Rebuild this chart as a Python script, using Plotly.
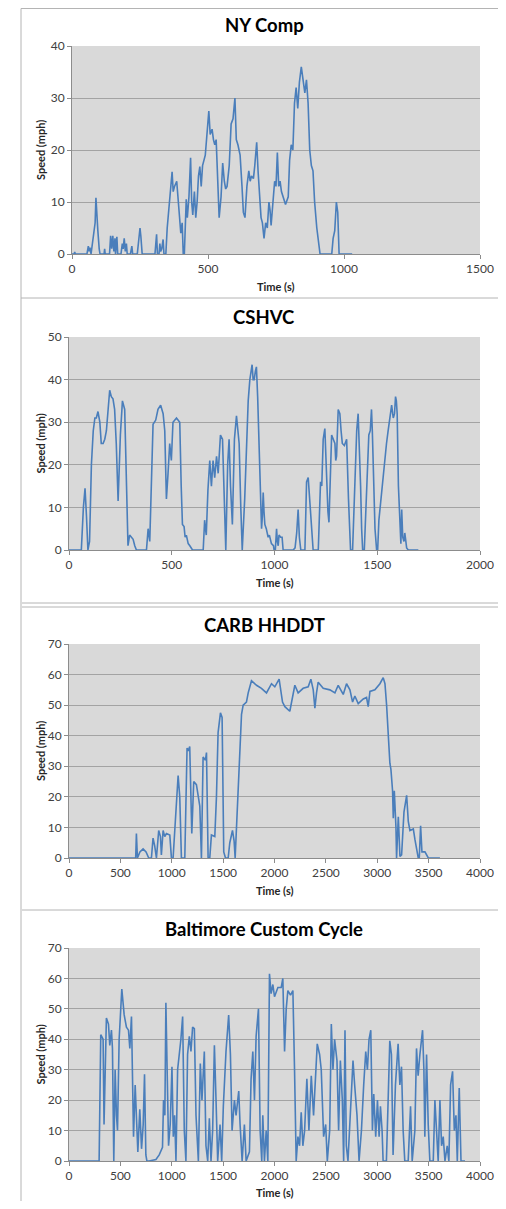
import plotly.graph_objects as go

# --- data (time in s, speed in mph) ---
nyc_t = [0, 8, 10, 12, 55, 60, 63, 66, 70, 75, 80, 85, 88, 92, 95, 100, 103, 118, 120, 122,
         138, 142, 146, 150, 154, 158, 160, 165, 168, 180, 185, 188, 192, 196, 200, 203, 215,
         220, 223, 240, 245, 250, 253, 258, 305, 311, 314, 320, 323, 326, 330, 335, 338, 345,
         350, 358, 363, 368, 372, 377, 385, 390, 395, 400, 405, 409, 413, 416, 420, 424, 430,
         436, 440, 444, 450, 455, 460, 465, 470, 475, 480, 490, 497, 503, 508, 515, 520, 525,
         530, 535, 541, 548, 554, 560, 565, 570, 578, 585, 592, 599, 604, 610, 618, 625, 630,
         636, 643, 650, 655, 660, 667, 672, 679, 684, 690, 695, 700, 706, 712, 718, 724, 728,
         732, 738, 745, 750, 755, 760, 765, 770, 777, 785, 795, 800, 806, 812, 818, 824, 830,
         836, 843, 850, 856, 862, 868, 874, 880, 886, 892, 900, 912, 955, 960, 966, 972, 977,
         982, 1030]
nyc_v = [0, 0, 0.4, 0, 0, 1.5, 0.5, 1.2, 0, 2, 5, 6, 10.8, 5, 4.5, 1, 0, 0, 1, 0,
         0, 3.5, 1, 3.5, 0.5, 3, 0, 3.3, 0, 0, 2, 1, 3, 0.5, 2, 0, 0,
         1.5, 0, 0, 3, 5, 3.5, 0, 0, 3.8, 0, 0, 2, 0.5, 1, 2.8, 0, 0,
         5, 10, 12, 15.8, 12, 13, 14, 10, 8, 4, 6, 0, 0, 7, 10.5, 7, 11,
         18.5, 10, 7.5, 12, 7, 10, 15, 16.8, 13, 17, 19, 23, 27.5, 23, 24, 22, 21,
         22, 15, 7, 11, 17.5, 14, 12.5, 13, 17, 25, 26, 30, 22, 21, 19, 13, 8,
         7, 13, 16, 14, 15, 14.5, 17, 21.5, 16, 10, 7, 6, 3, 6, 5, 10, 8.5,
         5.5, 10, 14, 13, 19.5, 13, 14, 12, 11, 9.5, 11, 18, 21, 20, 29, 32, 28,
         33, 36, 33, 31, 33.5, 29, 20, 17, 16, 10, 5, 0, 0, 3, 4.5, 10, 8,
         0, 0]

cshvc_t = [0, 60, 70, 78, 85, 92, 100, 109, 118, 126, 133, 141, 150, 157, 166, 174, 182, 190,
           198, 206, 214, 222, 230, 239, 250, 260, 266, 271, 280, 287, 295, 303, 312, 320, 328,
           377, 385, 393, 402, 409, 422, 433, 446, 458, 466, 474, 482, 490, 498, 506, 523, 539,
           546, 552, 560, 565, 571, 580, 588, 601, 653, 660, 664, 668, 676, 685, 693, 701, 709,
           718, 726, 730, 737, 747, 755, 763, 772, 779, 786, 795, 805, 815, 822, 828, 836, 843,
           855, 863, 872, 880, 891, 896, 901, 907, 912, 918, 925, 932, 937, 941, 945, 949, 953,
           960, 969, 975, 985, 995, 998, 1004, 1010, 1014, 1018, 1022, 1030, 1037, 1042, 1091,
           1100, 1108, 1115, 1121, 1128, 1148, 1156, 1164, 1170, 1177, 1183, 1188, 1213, 1218,
           1224, 1230, 1237, 1245, 1249, 1253, 1260, 1265, 1272, 1278, 1286, 1294, 1298, 1302,
           1310, 1318, 1324, 1330, 1340, 1351, 1360, 1370, 1380, 1386, 1391, 1400, 1407, 1413,
           1419, 1424, 1429, 1437, 1443, 1448, 1454, 1459, 1466, 1472, 1476, 1481, 1485, 1489,
           1497, 1502, 1508, 1512, 1516, 1522, 1529, 1537, 1545, 1553, 1562, 1570, 1575, 1578,
           1584, 1589, 1593, 1597, 1603, 1610, 1615, 1619, 1624, 1630, 1634, 1638, 1643, 1651,
           1700]
cshvc_v = [0, 0, 10, 14.5, 8, 0, 2, 20, 28, 31, 31, 32.5, 30, 25, 25, 26, 28, 32,
           37.5, 36, 35.5, 33, 25, 11.5, 27, 35, 34, 33, 15, 1, 3.5, 3, 2.5, 1, 0,
           0, 5, 2, 20, 29.5, 30.5, 33, 34, 32, 28, 12, 18, 25, 21, 30, 31, 30,
           15, 6, 5.5, 3, 3.5, 1.5, 1, 0, 0, 7, 5, 3.5, 14, 21, 15, 21, 17,
           22, 18, 22, 27, 26, 15, 0, 20, 26, 15, 6, 26, 31.5, 28, 25, 10, 0,
           12, 25, 35, 40, 43.5, 40, 40, 42, 43, 36, 25, 10, 5, 8, 13.5, 9, 6,
           5, 3, 3.5, 1.5, 1, 0, 0, 5, 2, 1, 3.5, 3, 3, 0, 0,
           0.5, 4, 9.5, 3, 0, 0, 16, 17, 12, 8, 2, 0, 0, 8,
           16, 15, 26, 28.5, 22, 15, 9, 6.5, 20, 27, 26, 25, 21, 22,
           33, 32, 28, 25, 24.5, 26, 12, 0, 0, 8, 17, 28, 32, 25,
           15, 5, 0, 0, 8, 16, 22, 27, 28, 33, 28, 20, 10, 5,
           0, 0, 7, 9, 10, 14, 17, 22, 25, 28, 32, 34, 32, 31,
           32, 36, 35, 32, 15, 5, 1.5, 9.5, 3, 2, 4, 2.5, 0.5, 0,
           0]

carb_t = [0, 649, 656, 666, 690, 721, 750, 776, 802, 818, 834, 851, 873, 890, 899, 916, 932,
          948, 981, 997, 1013, 1045, 1062, 1078, 1094, 1127, 1149, 1160, 1175, 1195, 1214,
          1240, 1256, 1273, 1289, 1305, 1328, 1338, 1354, 1370, 1386, 1419, 1435, 1451, 1474,
          1490, 1506, 1523, 1549, 1565, 1591, 1607, 1617, 1646, 1679, 1695, 1727, 1744, 1776,
          1825, 1873, 1922, 1971, 2003, 2045, 2078, 2101, 2149, 2182, 2198, 2230, 2279, 2328,
          2354, 2377, 2393, 2409, 2425, 2474, 2539, 2588, 2620, 2669, 2701, 2734, 2760, 2782,
          2815, 2864, 2896, 2912, 2929, 2977, 3026, 3058, 3075, 3091, 3107, 3123, 3133, 3149,
          3156, 3166, 3182, 3188, 3205, 3221, 3237, 3260, 3286, 3302, 3318, 3351, 3367, 3399,
          3409, 3422, 3435, 3464, 3497, 3610]
carb_v = [0, 0, 8, 0, 2, 3, 2, 0, 0, 6.5, 4, 0, 9, 7, 1, 9, 7,
          8, 7.5, 0, 0, 20, 27, 20, 0, 0, 36, 35, 36.5, 8, 25,
          24, 20, 17, 0, 33, 32, 34.5, 0, 0, 7.5, 7, 20, 41, 47.5,
          46, 2, 0, 0, 5, 9, 5.5, 0, 20, 47, 50, 51, 54, 58,
          56.5, 55.5, 54, 57, 56, 58.5, 51, 49.5, 48, 53, 56.5, 54, 55.5, 56,
          58.5, 55, 49, 54, 57.5, 55.5, 55, 54, 56.5, 53.5, 57, 55, 51, 53,
          50.5, 52, 52.5, 49.5, 54.5, 55, 57, 59, 57, 50, 40, 31, 29, 22,
          13, 22, 10, 0, 13.5, 0.5, 1, 15, 20.5, 12, 9, 9.5, 6, 0,
          0, 10.5, 2, 2, 0, 0]

balt_t = [0, 293, 309, 332, 341, 358, 364, 384, 397, 413, 423, 436, 449, 462, 472, 488, 504,
          514, 537, 559, 579, 592, 608, 618, 628, 644, 657, 670, 689, 706, 722, 735, 748, 758,
          780, 846, 878, 910, 920, 933, 943, 956, 969, 985, 1002, 1015, 1028, 1041, 1057, 1089,
          1106, 1122, 1138, 1154, 1171, 1187, 1203, 1220, 1236, 1259, 1278, 1294, 1317, 1333,
          1350, 1366, 1382, 1398, 1415, 1431, 1447, 1470, 1486, 1502, 1528, 1554, 1571, 1587,
          1610, 1626, 1652, 1665, 1685, 1707, 1724, 1756, 1772, 1789, 1805, 1821, 1844, 1860,
          1876, 1886, 1902, 1919, 1935, 1951, 1967, 1984, 2000, 2033, 2065, 2081, 2098, 2114,
          2130, 2156, 2179, 2195, 2211, 2228, 2244, 2260, 2276, 2293, 2315, 2335, 2358, 2380,
          2397, 2416, 2439, 2455, 2478, 2498, 2514, 2537, 2553, 2569, 2585, 2608, 2624, 2641,
          2660, 2673, 2686, 2699, 2715, 2732, 2764, 2780, 2803, 2823, 2846, 2868, 2888, 2904,
          2920, 2937, 2953, 2966, 2985, 3002, 3018, 3031, 3047, 3057, 3089, 3106, 3122, 3138,
          3154, 3177, 3203, 3220, 3236, 3252, 3268, 3301, 3324, 3340, 3366, 3382, 3398, 3415,
          3441, 3454, 3463, 3480, 3496, 3512, 3545, 3561, 3577, 3593, 3610, 3626, 3642, 3659,
          3681, 3697, 3714, 3733, 3750, 3766, 3779, 3798, 3815, 3854]
balt_v = [0, 0, 41.5, 40, 12, 35, 47, 45, 38, 43, 37, 0, 30, 15, 10, 40, 52,
          56.5, 48, 44, 43, 37, 47.5, 25, 8, 25, 13, 3, 17, 4, 12, 28.5, 2, 0,
          0, 0.5, 2, 4.5, 20, 15, 52, 20, 5, 12, 31, 8, 15, 0, 30, 40,
          47.5, 10, 0, 35, 41, 36, 44, 43.5, 15, 0, 32, 20, 36, 5,
          0, 14, 0, 10, 38, 20, 0, 12, 0, 18, 36, 48, 35, 10,
          20, 15, 23, 12, 0, 12, 0, 3, 27, 36, 20, 41, 50, 10,
          0, 15, 0, 10, 0, 61.5, 55, 58, 54, 57, 57, 60, 36, 50,
          56, 54.5, 56, 30, 0, 8, 5, 16, 5, 10, 27, 10, 28, 15,
          28, 38.5, 35, 30, 8, 12, 0, 10, 45, 30, 40, 33, 10, 33,
          20, 0, 43, 5, 0, 10, 33, 25, 15, 0, 10, 25, 36, 30,
          40, 43, 10, 22, 8, 20, 8, 18, 10, 0, 0, 20, 39.5, 35,
          2, 25, 38.5, 25, 31, 10, 0, 0, 18, 0, 10, 37, 28, 35,
          43, 30, 8, 35, 12, 0, 0, 20, 10, 0, 20, 5, 8, 0,
          5, 0, 25, 29.5, 10, 15, 0, 24, 0, 0]

titles = ["NY Comp", "CSHVC", "CARB HHDDT", "Baltimore Custom Cycle"]
x_max = [1500, 2000, 4000, 4000]
y_max = [40, 50, 70, 70]
y_step = [10, 10, 10, 10]
x_step = [500, 500, 500, 500]

# page is 506x1209; the browser body keeps an 8px margin, so the figure is
# made 16px smaller and every page pixel is shifted by 8
PAGE_OFF = 8
W, H = 506 - 2 * PAGE_OFF, 1209 - 2 * PAGE_OFF
LINE = "#4a7ebb"
FONT = "Lato"


def px(x):
    return (x - PAGE_OFF) / W


def py(y):
    return 1 - (y - PAGE_OFF) / H


# page-pixel boxes of each plot area: (left, right, top, bottom)
boxes = [(72, 480, 46, 254), (69, 480, 337, 550), (69, 480, 644, 858), (69, 480, 948, 1161)]
title_y = [25, 317, 625, 929]
xtitle_y = [287, 582, 890, 1192]

series = [(nyc_t, nyc_v), (cshvc_t, cshvc_v), (carb_t, carb_v), (balt_t, balt_v)]

fig = go.Figure()
annotations = []
tickfont = dict(family=FONT, size=12, color="#404040")
for i, ((t, v), box) in enumerate(zip(series, boxes)):
    n = "" if i == 0 else str(i + 1)
    fig.add_trace(go.Scatter(x=t, y=v, mode="lines", line=dict(color=LINE, width=1.6),
                             xaxis="x" + n, yaxis="y" + n, showlegend=False,
                             cliponaxis=False))
    l, r, tp, b = box
    fig.layout["xaxis" + n] = dict(
        domain=[px(l), px(r)], anchor="y" + n, range=[0, x_max[i]], dtick=x_step[i],
        showgrid=False, showline=True, linecolor="#8c8c8c", linewidth=1,
        ticks="outside", ticklen=4, tickcolor="#8c8c8c", zeroline=False,
        tickfont=tickfont, fixedrange=True, automargin=False)
    fig.layout["yaxis" + n] = dict(
        domain=[py(b), py(tp)], anchor="x" + n, range=[0, y_max[i]], dtick=y_step[i],
        showgrid=True, gridcolor="#a3a3a3", gridwidth=1, showline=True,
        linecolor="#8c8c8c", linewidth=1, ticks="outside", ticklen=4,
        tickcolor="#8c8c8c", zeroline=False,
        tickfont=tickfont, fixedrange=True, automargin=False)
    annotations.append(dict(text="<b>" + titles[i] + "</b>", x=px(264), y=py(title_y[i]),
                            xref="paper", yref="paper", showarrow=False,
                            xanchor="center", yanchor="middle",
                            font=dict(family=FONT, size=18.5, color="#000000")))
    annotations.append(dict(text="<b>Time (s)</b>", x=px((l + r) / 2), y=py(xtitle_y[i]),
                            xref="paper", yref="paper", showarrow=False,
                            xanchor="center", yanchor="middle",
                            font=dict(family=FONT, size=11, color="#262626")))
    annotations.append(dict(text="<b>Speed (mph)</b>", x=px(40), y=py((tp + b) / 2),
                            xref="paper", yref="paper", showarrow=False, textangle=-90,
                            xanchor="center", yanchor="middle",
                            font=dict(family=FONT, size=11, color="#262626")))

# chart frames (page pixels)
frame = "#b4b4b4"
shapes = []
for x0, y0, x1, y1 in [(21, 8.5, 506, 8.5), (21, 8.5, 21, 1209), (21, 298, 506, 298),
                       (22, 603, 506, 603), (22, 607, 506, 607), (22, 910, 506, 910)]:
    shapes.append(dict(type="line", xref="paper", yref="paper", x0=px(x0), y0=py(y0),
                       x1=px(x1), y1=py(y1), line=dict(color=frame, width=1)))

fig.update_layout(
    width=W, height=H, margin=dict(l=0, r=0, t=0, b=0, autoexpand=False),
    paper_bgcolor="white", plot_bgcolor="#d9d9d9",
    annotations=annotations, shapes=shapes,
)

fig.write_html("out.html")
